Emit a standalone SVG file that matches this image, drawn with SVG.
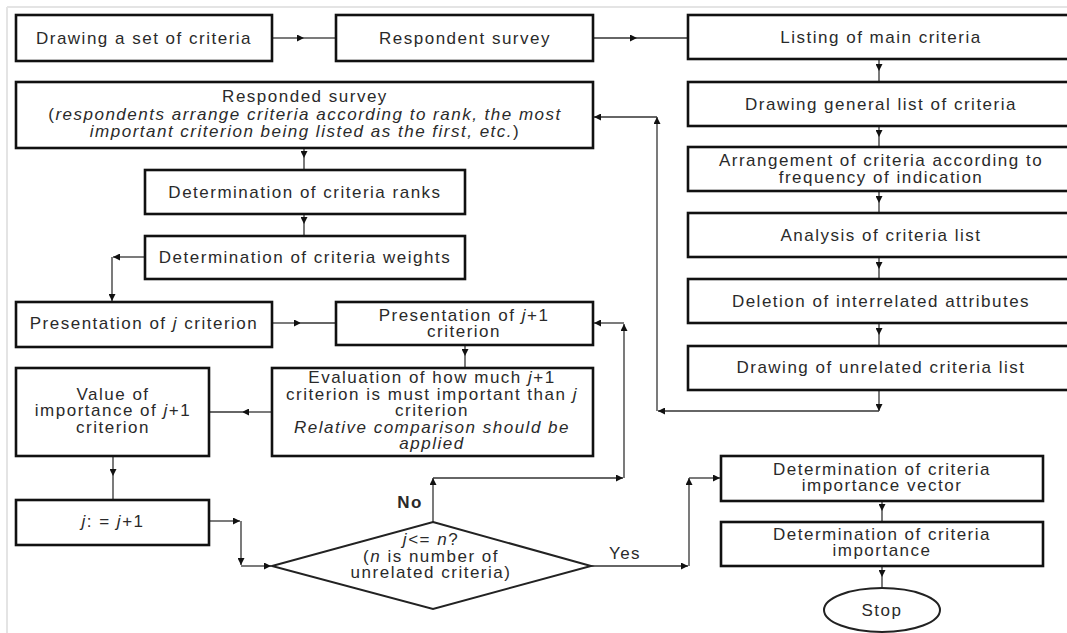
<svg xmlns="http://www.w3.org/2000/svg" width="1067" height="633" viewBox="0 0 1067 633">
<defs>
<marker id="ah" viewBox="0 0 10 10" refX="10" refY="5" markerWidth="7" markerHeight="7" markerUnits="userSpaceOnUse" orient="auto"><path d="M0,0 L10,5 L0,10 z" fill="#111"/></marker>
<style>
.box{fill:#fff;stroke:#111;stroke-width:2.6}
.shape{fill:#fff;stroke:#222;stroke-width:2}
.t{font-family:"Liberation Sans",Arial,sans-serif;font-size:17px;letter-spacing:1.5px;fill:#2a2a2a;text-anchor:middle}
.i{font-style:italic}
.b{font-weight:bold}
.c{fill:none;stroke:#333;stroke-width:1.3}
.ca{fill:none;stroke:#333;stroke-width:1.3;marker-end:url(#ah)}
.frame{stroke:#e4e4e4;stroke-width:2}
</style>
</defs>
<rect x="0" y="0" width="1067" height="633" fill="#fff"/>
<line class="frame" x1="7" y1="7" x2="1067" y2="7"/>
<line class="frame" x1="7" y1="7" x2="7" y2="633"/>

<g id="connectors">
<path class="ca" d="M272,38 H304"/><path class="c" d="M304,38 H336"/>
<path class="ca" d="M593,38 H637"/><path class="c" d="M637,38 H688"/>
<path class="ca" d="M879,59 V71"/><path class="c" d="M879,71 V82"/>
<path class="ca" d="M879,126 V137"/><path class="c" d="M879,137 V147"/>
<path class="ca" d="M879,191 V203"/><path class="c" d="M879,203 V213"/>
<path class="ca" d="M879,257 V269"/><path class="c" d="M879,269 V279"/>
<path class="ca" d="M879,323 V335"/><path class="c" d="M879,335 V346"/>
<path class="ca" d="M879,390 V411"/>
<path class="ca" d="M879,411 H658"/>
<path class="ca" d="M657,411 V117"/>
<path class="ca" d="M657,117 H594"/>
<path class="ca" d="M304,148 V158"/><path class="c" d="M304,158 V170"/>
<path class="ca" d="M304,214 V224"/><path class="c" d="M304,224 V236"/>
<path class="ca" d="M145,257 H113"/>
<path class="ca" d="M112,257 V301"/>
<path class="ca" d="M272,323 H301"/><path class="c" d="M301,323 H336"/>
<path class="ca" d="M433,522 V478"/>
<path class="ca" d="M433,478 H623"/>
<path class="ca" d="M624,478 V324"/>
<path class="ca" d="M624,323 H594"/>
<path class="ca" d="M465,345 V356"/><path class="c" d="M465,356 V368"/>
<path class="ca" d="M272,412 H242"/><path class="c" d="M242,412 H209"/>
<path class="ca" d="M113,456 V476"/><path class="c" d="M113,476 V500"/>
<path class="ca" d="M209,521 H240"/>
<path class="ca" d="M241,521 V565"/>
<path class="ca" d="M241,566 H271"/>
<path class="ca" d="M591,566 H688"/>
<path class="ca" d="M689,566 V478"/>
<path class="ca" d="M689,478 H720"/>
<path class="ca" d="M882,501 V511"/><path class="c" d="M882,511 V522"/>
<path class="ca" d="M882,566 V577"/><path class="c" d="M882,577 V588"/>
</g>

<g id="n1"><rect class="box" x="16" y="15" width="256" height="46"/><text class="t" x="144" y="44">Drawing a set of criteria</text></g>
<g id="n2"><rect class="box" x="336" y="15" width="257" height="46"/><text class="t" x="465" y="44">Respondent survey</text></g>
<g id="n3"><rect class="box" x="688" y="15" width="390" height="44"/><text class="t" x="881" y="43">Listing of main criteria</text></g>
<g id="n4"><rect class="box" x="688" y="82" width="390" height="44"/><text class="t" x="881" y="110">Drawing general list of criteria</text></g>
<g id="n5"><rect class="box" x="688" y="147" width="390" height="44"/><text class="t" x="881" y="166">Arrangement of criteria according to</text><text class="t" x="881" y="183">frequency of indication</text></g>
<g id="n6"><rect class="box" x="688" y="213" width="390" height="44"/><text class="t" x="881" y="241">Analysis of criteria list</text></g>
<g id="n7"><rect class="box" x="688" y="279" width="390" height="44"/><text class="t" x="881" y="307">Deletion of interrelated attributes</text></g>
<g id="n8"><rect class="box" x="688" y="346" width="390" height="44"/><text class="t" x="881" y="373">Drawing of unrelated criteria list</text></g>
<g id="n9"><rect class="box" x="16" y="82" width="577" height="66"/>
<text class="t" x="305" y="102">Responded survey</text>
<text class="t" x="305" y="120">(<tspan class="i">respondents arrange criteria according to rank, the most</tspan></text>
<text class="t" x="305" y="137"><tspan class="i">important criterion being listed as the first, etc.</tspan>)</text></g>
<g id="n10"><rect class="box" x="145" y="170" width="320" height="44"/><text class="t" x="305" y="198">Determination of criteria ranks</text></g>
<g id="n11"><rect class="box" x="145" y="236" width="320" height="43"/><text class="t" x="305" y="263">Determination of criteria weights</text></g>
<g id="n12"><rect class="box" x="16" y="302" width="256" height="45"/><text class="t" x="144" y="329">Presentation of <tspan class="i">j</tspan> criterion</text></g>
<g id="n13"><rect class="box" x="336" y="302" width="257" height="43"/><text class="t" x="464" y="321">Presentation of <tspan class="i">j</tspan>+1</text><text class="t" x="464" y="337">criterion</text></g>
<g id="n14"><rect class="box" x="272" y="368" width="321" height="88"/>
<text class="t" x="432" y="383">Evaluation of how much <tspan class="i">j</tspan>+1</text>
<text class="t" x="432" y="400">criterion is must important than <tspan class="i">j</tspan></text>
<text class="t" x="432" y="416">criterion</text>
<text class="t i" x="432" y="433">Relative comparison should be</text>
<text class="t i" x="432" y="449">applied</text></g>
<g id="n15"><rect class="box" x="16" y="368" width="193" height="88"/>
<text class="t" x="113" y="400">Value of</text>
<text class="t" x="113" y="416">importance of <tspan class="i">j</tspan>+1</text>
<text class="t" x="113" y="433">criterion</text></g>
<g id="n16"><rect class="box" x="16" y="500" width="193" height="45"/><text class="t" x="113" y="527"><tspan class="i">j</tspan>: = <tspan class="i">j</tspan>+1</text></g>
<g id="n17"><polygon class="shape" points="433,522 591,566 433,609 272,566"/>
<text class="t" x="431" y="545"><tspan class="i">j</tspan>&lt;= <tspan class="i">n</tspan>?</text>
<text class="t" x="431" y="562">(<tspan class="i">n</tspan> is number of</text>
<text class="t" x="431" y="578">unrelated criteria)</text></g>
<g id="n18"><rect class="box" x="721" y="456" width="322" height="45"/><text class="t" x="882" y="475">Determination of criteria</text><text class="t" x="882" y="491">importance vector</text></g>
<g id="n19"><rect class="box" x="721" y="522" width="322" height="44"/><text class="t" x="882" y="540">Determination of criteria</text><text class="t" x="882" y="556">importance</text></g>
<g id="n20"><ellipse class="shape" cx="882" cy="610" rx="58" ry="22"/><text class="t" x="882" y="616">Stop</text></g>
<g id="labels"><text class="t b" x="410" y="508">No</text><text class="t" x="625" y="559">Yes</text></g>
</svg>
